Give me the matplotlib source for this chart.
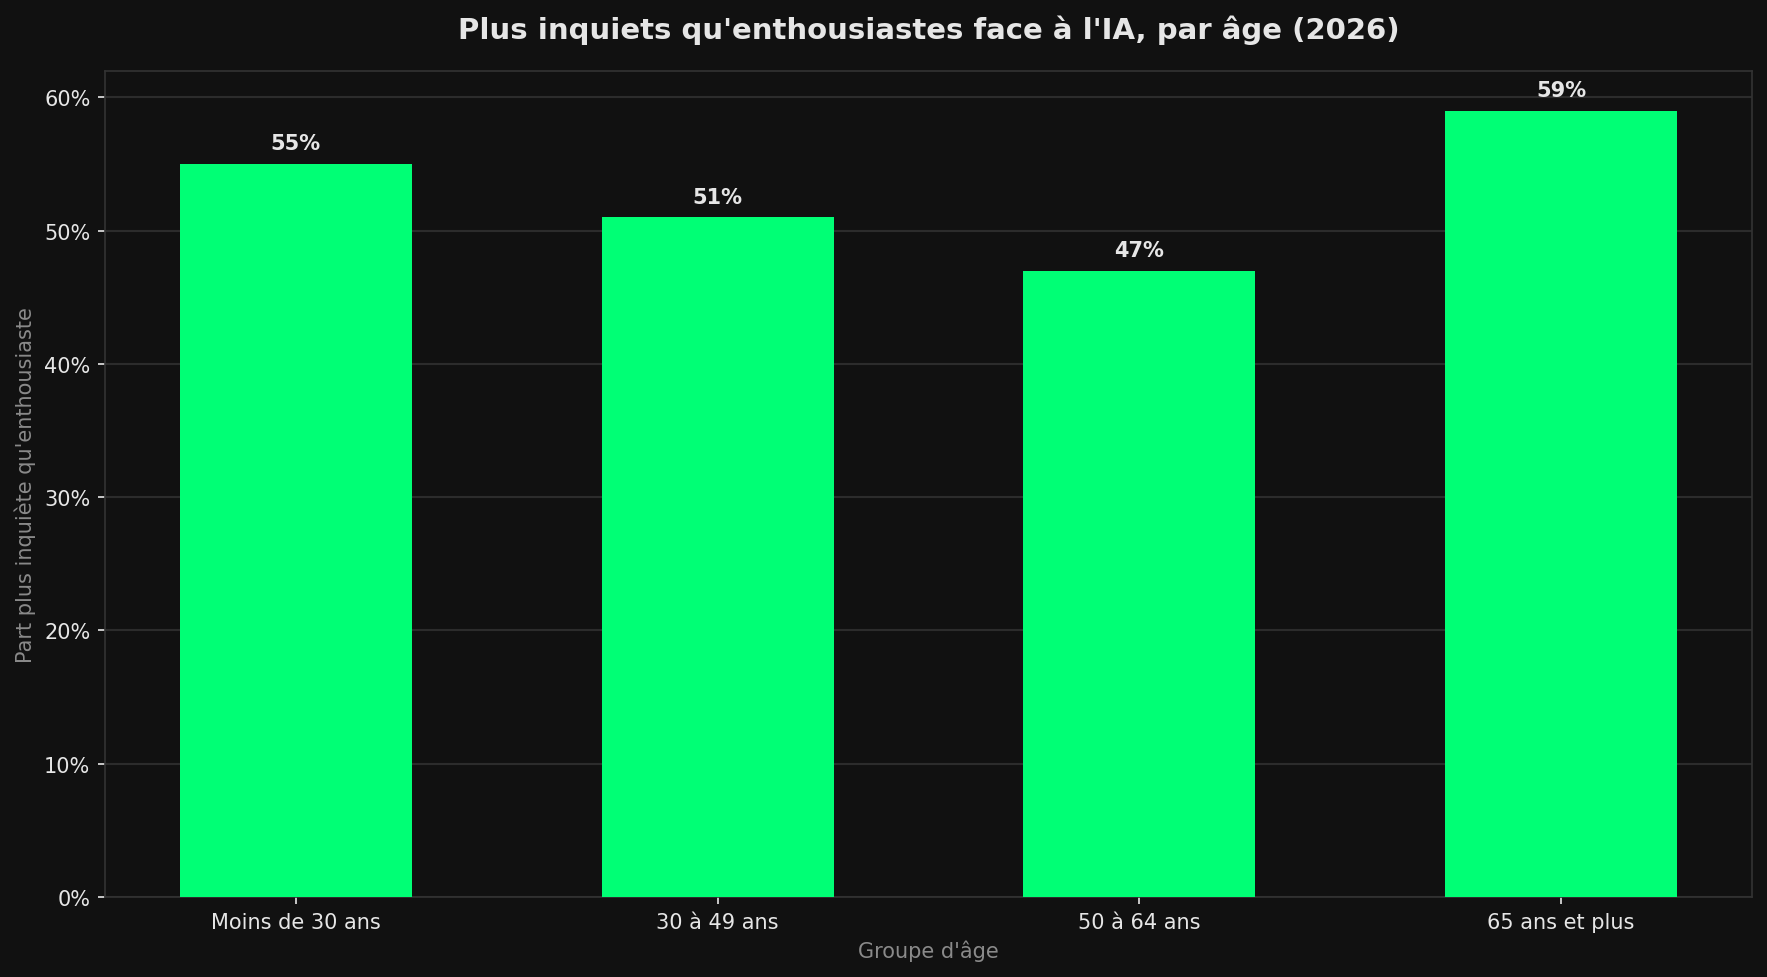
import matplotlib
matplotlib.use("Agg")
import matplotlib.pyplot as plt
from matplotlib.ticker import FuncFormatter

# donnees
groupes = ["Moins de 30 ans", "30 à 49 ans", "50 à 64 ans", "65 ans et plus"]
valeurs = [55, 51, 47, 59]

fond = "#111111"
vert = "#00ff75"
texte = "#e6e6e6"
gris = "#8a8a8a"

fig, ax = plt.subplots(figsize=(11.78, 6.52), dpi=150)
fig.patch.set_facecolor(fond)
ax.set_facecolor(fond)
fig.subplots_adjust(left=0.0594, right=0.9915, bottom=0.0818, top=0.926)

x = range(len(groupes))
bars = ax.bar(x, valeurs, width=0.55, color=vert, zorder=3)

for b, v in zip(bars, valeurs):
    ax.text(b.get_x() + b.get_width() / 2, v + 0.8, f"{v}%", ha="center", va="bottom",
            color=texte, fontsize=10, fontweight="bold", zorder=4)

ax.set_ylim(0, max(valeurs) * 1.05)
ax.set_xticks(list(x))
ax.set_xticklabels(groupes)
ax.yaxis.set_major_formatter(FuncFormatter(lambda v, p: f"{v:.0f}%"))

ax.tick_params(colors=texte, labelsize=10)
for s in ax.spines.values():
    s.set_color("#333333")
ax.grid(axis="y", color="#2c2c2c", linewidth=1, zorder=0)
ax.set_axisbelow(True)

ax.set_title("Plus inquiets qu'enthousiastes face à l'IA, par âge (2026)",
             color=texte, fontsize=14, fontweight="bold", pad=16)
ax.set_xlabel("Groupe d'âge", color=gris, fontsize=10)
ax.set_ylabel("Part plus inquiète qu'enthousiaste", color=gris, fontsize=10)

fig.savefig("out.png", dpi=150, facecolor=fond)
